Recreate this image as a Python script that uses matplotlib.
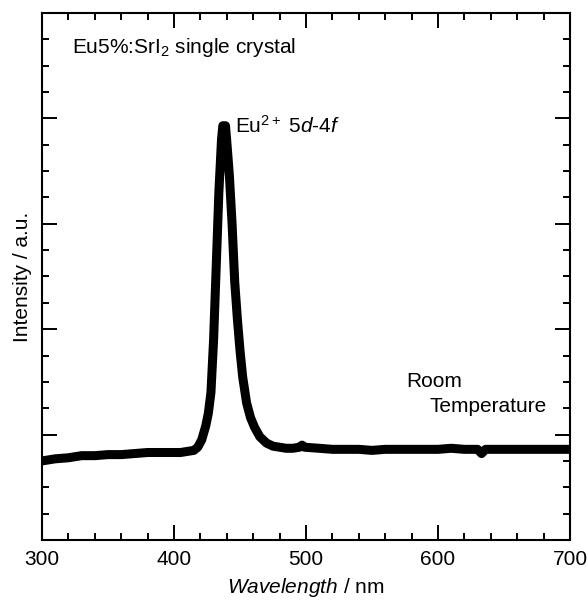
import numpy as np
import matplotlib
matplotlib.use("Agg")
import matplotlib.pyplot as plt
from matplotlib.ticker import MultipleLocator

plt.rcParams['font.family'] = ['Liberation Sans', 'DejaVu Sans']
plt.rcParams['mathtext.fontset'] = 'custom'
plt.rcParams['mathtext.rm'] = 'Liberation Sans'
plt.rcParams['mathtext.it'] = 'Liberation Sans:italic'

# emission spectrum
wavelength = [300, 310, 320, 330, 340, 350, 360, 370, 380, 390, 400, 405, 410,
              415, 418, 421, 424, 426, 428, 430, 432, 434, 436, 437, 439, 440, 442,
              444, 446, 448, 450, 452, 455, 458, 461, 465, 470, 475, 480, 485,
              490, 495, 497, 499, 510, 520, 530, 540, 550, 560, 570, 580, 590,
              600, 610, 620, 630, 633, 636, 640, 650, 660, 670, 680, 690, 700]
intensity = [0.75, 0.77, 0.78, 0.80, 0.80, 0.81, 0.81, 0.82, 0.83, 0.83, 0.83,
             0.83, 0.84, 0.85, 0.88, 0.95, 1.08, 1.20, 1.40, 1.90, 2.60, 3.30,
             3.80, 3.93, 3.93, 3.78, 3.45, 3.00, 2.45, 2.10, 1.80, 1.55, 1.30, 1.16,
             1.07, 0.98, 0.92, 0.89, 0.88, 0.87, 0.87, 0.88, 0.90, 0.88, 0.87,
             0.86, 0.86, 0.86, 0.85, 0.86, 0.86, 0.86, 0.86, 0.86, 0.87, 0.86,
             0.86, 0.82, 0.86, 0.86, 0.86, 0.86, 0.86, 0.86, 0.86, 0.86]

fig = plt.figure(figsize=(5.88, 6.03), dpi=100)
ax = fig.add_axes([0.0714, 0.1045, 0.898, 0.874])

ax.plot(wavelength, intensity, color='black', lw=6.5,
        solid_joinstyle='round', solid_capstyle='butt')

ax.set_xlim(300, 700)
ax.set_ylim(0, 5)
ax.xaxis.set_major_locator(MultipleLocator(100))
ax.xaxis.set_minor_locator(MultipleLocator(20))
ax.yaxis.set_major_locator(MultipleLocator(1))
ax.yaxis.set_minor_locator(MultipleLocator(0.25))
ax.tick_params(which='both', direction='in', top=True, right=True, width=1.4)
ax.tick_params(which='major', length=11, labelsize=15, pad=7)
ax.tick_params(which='minor', length=5)
ax.tick_params(axis='y', labelleft=False)
for s in ax.spines.values():
    s.set_linewidth(1.5)

ax.set_xlabel(r'$\it{Wavelength}$ / nm', fontsize=15, labelpad=5)
ax.set_ylabel('Intensity / a.u.', fontsize=15, labelpad=4)

ax.text(0.056, 0.934, r'Eu5%:SrI$_2$ single crystal', transform=ax.transAxes,
        fontsize=15, va='center', ha='left')
ax.text(0.366, 0.786, r'Eu$^{2+}$ 5$\it{d}$-4$\it{f}$', transform=ax.transAxes,
        fontsize=15, va='center', ha='left')
ax.text(0.689, 0.3, 'Room', transform=ax.transAxes,
        fontsize=15, va='center', ha='left')
ax.text(0.733, 0.253, 'Temperature', transform=ax.transAxes,
        fontsize=15, va='center', ha='left')

fig.savefig('out.png', dpi=100)
